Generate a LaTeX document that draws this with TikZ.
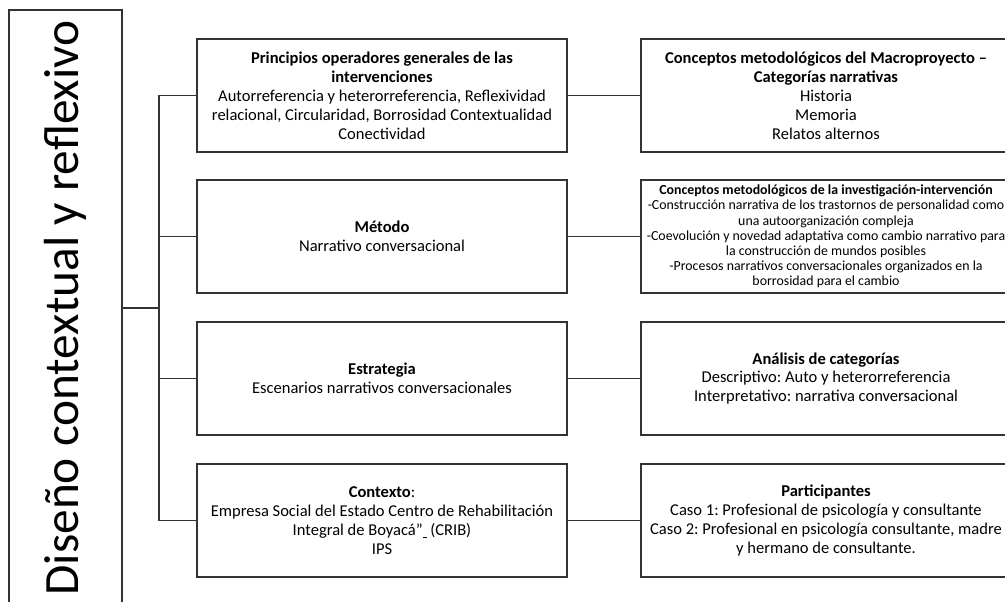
\documentclass[tikz,border=0pt]{standalone}
\usepackage{fontspec}
\setmainfont{Carlito}
\usetikzlibrary{positioning}
\tikzset{
  caja/.style={draw=black!80, line width=1.1pt, align=center, minimum width=277.5pt, minimum height=84.75pt, inner sep=2pt, font=\fontsize{12.4}{14.2}\selectfont\frenchspacing},
  cajachica/.style={caja, font=\fontsize{10.4}{11.4}\selectfont\frenchspacing},
  linea/.style={draw=black!80, line width=1.1pt}
}

\begin{document}
\begin{tikzpicture}[x=0.75pt,y=-0.75pt]
\useasboundingbox (0,0) rectangle (1005,602);
\node[caja, rotate=90, minimum width=447pt, font=\fontsize{37}{42}\selectfont] (titulo) at (65.5,308) {Diseño contextual y reflexivo};

% columna central
\node[caja] (principios) at (382,95.5) {\textbf{Principios operadores generales de las}\\ \textbf{intervenciones}\\ Autorreferencia y heterorreferencia, Reflexividad\\ relacional, Circularidad, Borrosidad Contextualidad\\ Conectividad};
\node[caja] (metodo) at (382,236.5) {\textbf{Método}\\ Narrativo conversacional};
\node[caja] (estrategia) at (382,378.5) {\textbf{Estrategia}\\ Escenarios narrativos conversacionales};
\node[caja] (contexto) at (382,520.5) {\textbf{Contexto}:\\ Empresa Social del Estado Centro de Rehabilitación\\ Integral de Boyacá”\underline{\ }\ (CRIB)\\ IPS};

% columna derecha
\node[caja] (macro) at (826,95.5) {\textbf{Conceptos metodológicos del Macroproyecto –}\\ \textbf{Categorías narrativas}\\ Historia\\ Memoria\\ Relatos alternos};
\node[cajachica] (investigacion) at (826,236.5) {\textbf{Conceptos metodológicos de la investigación-intervención}\\ -Construcción narrativa de los trastornos de personalidad como\\ una autoorganización compleja\\ -Coevolución y novedad adaptativa como cambio narrativo para\\ la construcción de mundos posibles\\ -Procesos narrativos conversacionales organizados en la\\ borrosidad para el cambio};
\node[caja] (analisis) at (826,378.5) {\textbf{Análisis de categorías}\\ Descriptivo: Auto y heterorreferencia\\ Interpretativo: narrativa conversacional};
\node[caja] (participantes) at (826,520.5) {\textbf{Participantes}\\ Caso 1: Profesional de psicología y consultante\\ Caso 2: Profesional en psicología consultante, madre\\ y hermano de consultante.};

% conectores
\coordinate (nodo) at (159,308);
\draw[linea] (titulo.south |- nodo) -- (nodo);
\draw[linea] (nodo |- principios) -- (nodo |- contexto);
\foreach \m/\r in {principios/macro, metodo/investigacion, estrategia/analisis, contexto/participantes}{
  \draw[linea] (nodo |- \m) -- (\m.west);
  \draw[linea] (\m.east) -- (\r.west);
}
\end{tikzpicture}
\end{document}
